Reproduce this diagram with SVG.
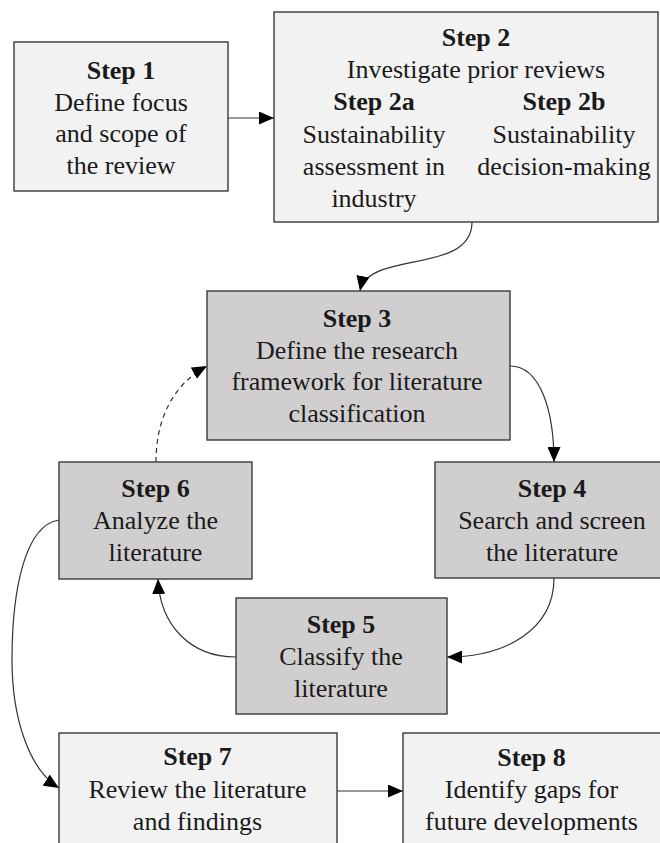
<svg xmlns="http://www.w3.org/2000/svg" width="660" height="843" viewBox="0 0 660 843">
  <defs>
    <marker id="arrow" markerUnits="userSpaceOnUse" viewBox="0 0 15 13" refX="15" refY="6.5" markerWidth="15" markerHeight="13" orient="auto">
      <path d="M0,0 L15,6.5 L0,13 z" fill="#000"/>
    </marker>
    <style>
      .box-light { fill: #f2f2f2; stroke: #3a3a3a; stroke-width: 1.4; }
      .box-dark { fill: #d0cece; stroke: #3a3a3a; stroke-width: 1.4; }
      .t { font-family: 'Liberation Serif', 'DejaVu Serif', serif; font-size: 26px; fill: #1a1a1a; text-anchor: middle; }
      .h { font-weight: bold; }
      .link { fill: none; stroke: #333; stroke-width: 1.2; marker-end: url(#arrow); }
      .dashed { stroke-dasharray: 5 4; }
    </style>
  </defs>

  <rect width="660" height="843" fill="#fff"/>

  <!-- connectors -->
  <g id="connectors">
    <path class="link" d="M228,118 L274,118"/>
    <path class="link" d="M472,222 C472,275 368,250 360,291"/>
    <path class="link" d="M510,366 C540,366 554,410 554,462"/>
    <path class="link" d="M554,578 C554,630 505,657 447,657"/>
    <path class="link" d="M236,657 C190,657 160,625 158,579"/>
    <path class="link dashed" d="M156,462 C156,420 172,385 207,366"/>
    <path class="link" d="M59,520 C25,525 12,590 12,660 C12,720 30,770 59,788"/>
    <path class="link" d="M337,791 L403,791"/>
  </g>

  <!-- Step 1 -->
  <g id="step1">
    <rect class="box-light" x="14" y="42" width="214" height="149"/>
    <text class="t h" x="121" y="79">Step 1</text>
    <text class="t" x="121" y="110.5">Define focus</text>
    <text class="t" x="121" y="142">and scope of</text>
    <text class="t" x="121" y="173.5">the review</text>
  </g>

  <!-- Step 2 with sub-steps 2a and 2b -->
  <g id="step2">
    <rect class="box-light" x="274" y="12" width="384" height="210"/>
    <text class="t h" x="476" y="46">Step 2</text>
    <text class="t" x="476" y="78.2">Investigate prior reviews</text>
    <text class="t h" x="374" y="110.4">Step 2a</text>
    <text class="t" x="374" y="142.6">Sustainability</text>
    <text class="t" x="374" y="174.8">assessment in</text>
    <text class="t" x="374" y="207">industry</text>
    <text class="t h" x="564" y="110.4">Step 2b</text>
    <text class="t" x="564" y="142.6">Sustainability</text>
    <text class="t" x="564" y="174.8">decision-making</text>
  </g>

  <!-- Step 3 -->
  <g id="step3">
    <rect class="box-dark" x="207" y="291" width="303" height="149"/>
    <text class="t h" x="357" y="327">Step 3</text>
    <text class="t" x="357" y="358.7">Define the research</text>
    <text class="t" x="357" y="390.4">framework for literature</text>
    <text class="t" x="357" y="422">classification</text>
  </g>

  <!-- Step 4 -->
  <g id="step4">
    <rect class="box-dark" x="435" y="462" width="234" height="116"/>
    <text class="t h" x="552" y="497.3">Step 4</text>
    <text class="t" x="552" y="529.3">Search and screen</text>
    <text class="t" x="552" y="560.5">the literature</text>
  </g>

  <!-- Step 5 -->
  <g id="step5">
    <rect class="box-dark" x="236" y="598" width="211" height="116"/>
    <text class="t h" x="341" y="633">Step 5</text>
    <text class="t" x="341" y="665">Classify the</text>
    <text class="t" x="341" y="696.7">literature</text>
  </g>

  <!-- Step 6 -->
  <g id="step6">
    <rect class="box-dark" x="59" y="462" width="193" height="117"/>
    <text class="t h" x="155.5" y="496.7">Step 6</text>
    <text class="t" x="155.5" y="529">Analyze the</text>
    <text class="t" x="155.5" y="561">literature</text>
  </g>

  <!-- Step 7 -->
  <g id="step7">
    <rect class="box-light" x="59" y="733" width="278" height="120"/>
    <text class="t h" x="197.5" y="765">Step 7</text>
    <text class="t" x="197.5" y="798">Review the literature</text>
    <text class="t" x="197.5" y="829.5">and findings</text>
  </g>

  <!-- Step 8 -->
  <g id="step8">
    <rect class="box-light" x="403" y="733" width="259" height="120"/>
    <text class="t h" x="531.5" y="766">Step 8</text>
    <text class="t" x="531.5" y="798">Identify gaps for</text>
    <text class="t" x="531.5" y="830">future developments</text>
  </g>
</svg>
